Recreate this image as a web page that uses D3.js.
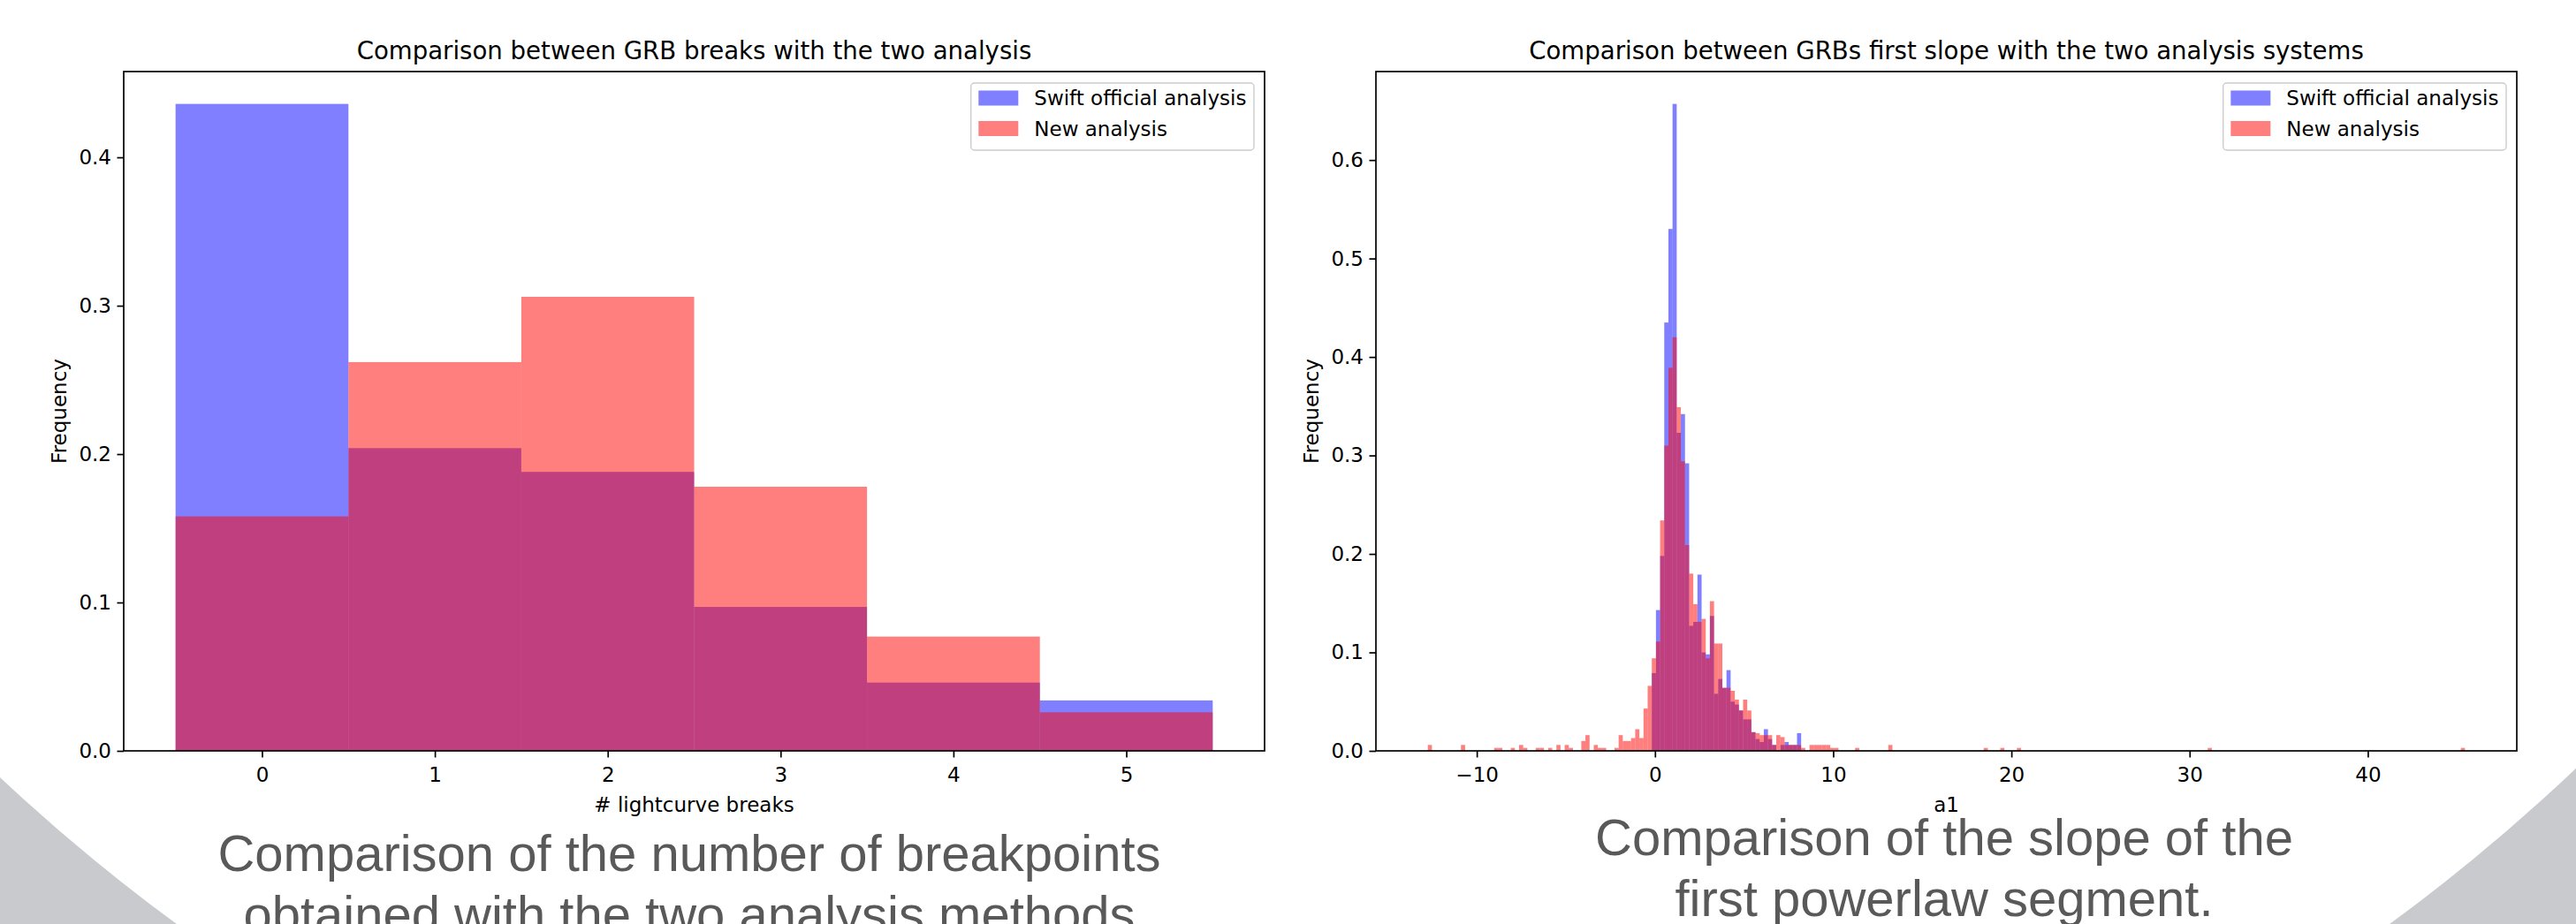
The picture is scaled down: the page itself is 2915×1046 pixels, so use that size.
<!DOCTYPE html>
<html>
<head>
<meta charset="utf-8">
<script src="https://cdn.jsdelivr.net/npm/d3@7"></script>
<style>
  body { margin: 0; background: #fff; }
  .mpl { font-family: "DejaVu Sans", sans-serif; }
  .caption { font-family: "Liberation Sans", Arial, sans-serif; }
</style>
</head>
<body>
<svg id="fig" width="2915" height="1046"></svg>
<script>
// ---- data: number of lightcurve breaks (density) ----
const breakCounts = [0, 1, 2, 3, 4, 5];
const breaksSwift = [0.436, 0.204, 0.188, 0.097, 0.046, 0.034];
const breaksNew = [0.158, 0.262, 0.306, 0.178, 0.077, 0.026];

// ---- data: first slope a1 (density), 250 bins ----
const slopeLo = -12.75;
const slopeBinWidth = 0.2328;
const slopeBinCount = 250;
const bodyFirstBin = 54;
const swiftBody = [0.079, 0.143, 0.198, 0.435, 0.530, 0.657, 0.323, 0.342, 0.292, 0.127,
  0.131, 0.179, 0.100, 0.098, 0.137, 0.058, 0.073, 0.064, 0.082, 0.050,
  0.047, 0.041, 0.032, 0.032, 0.019, 0.012, 0.009, 0.022, 0.012, 0.006,
  0.000, 0.006, 0.009, 0.006, 0.006, 0.018];
const newBody = [0.094, 0.111, 0.234, 0.310, 0.389, 0.420, 0.349, 0.294, 0.209, 0.180,
  0.149, 0.131, 0.134, 0.094, 0.152, 0.109, 0.109, 0.064, 0.064, 0.061,
  0.052, 0.041, 0.052, 0.041, 0.019, 0.018, 0.016, 0.016, 0.016, 0.006,
  0.016, 0.014, 0.006, 0.006, 0.006, 0.006];
const newOutlierBins = [0, 8, 16, 17, 20, 22, 23, 26, 27, 29, 31, 33, 34, 37, 38, 40, 41, 42, 45, 46,
  47, 48, 49, 50, 51, 52, 53, 90, 92, 93, 94, 95, 96, 97, 98, 103, 111, 134, 138, 142, 188, 249];
const newOutlierFreq = [0.006, 0.006, 0.003, 0.003, 0.003, 0.006, 0.003, 0.003, 0.003, 0.003,
  0.006, 0.006, 0.003, 0.010, 0.016, 0.006, 0.003, 0.003, 0.003, 0.016,
  0.010, 0.010, 0.013, 0.022, 0.013, 0.043, 0.066, 0.003, 0.006, 0.006,
  0.006, 0.006, 0.006, 0.003, 0.003, 0.003, 0.006, 0.003, 0.003, 0.003, 0.003, 0.003];

const seriesNames = ["Swift official analysis", "New analysis"];
const seriesColors = ["blue", "red"];

const svg = d3.select("#fig");

// slide background: grey corners outside a large white disc
svg.append("rect").attr("width", 2915).attr("height", 1046).attr("fill", "#c9cacd");
svg.append("circle").attr("cx", 1452).attr("cy", -666).attr("r", 2121).attr("fill", "#fff");

const fs = 23;

function panel(o) {
    const x = d3.scaleLinear().domain(o.xDomain).range([o.left, o.left + o.width]);
    const y = d3.scaleLinear().domain([0, o.yMax]).range([o.top + o.height, o.top]);
    const g = svg.append("g").attr("class", "mpl");

    [o.swift, o.fresh].forEach((bars, i) => {
        g.append("g").selectAll("rect")
            .data(bars.filter(b => b.h > 0))
            .join("rect")
            .attr("x", d => x(d.x0))
            .attr("width", d => x(d.x1) - x(d.x0))
            .attr("y", d => y(d.h))
            .attr("height", d => y(0) - y(d.h))
            .attr("fill", seriesColors[i])
            .attr("fill-opacity", 0.5);
    });

    const xAxis = g.append("g")
        .attr("transform", `translate(0,${o.top + o.height})`)
        .call(d3.axisBottom(x).tickValues(o.xTicks).tickFormat(o.xFmt).tickSize(7.5).tickPadding(11));
    const yAxis = g.append("g")
        .attr("transform", `translate(${o.left},0)`)
        .call(d3.axisLeft(y).tickValues(o.yTicks).tickFormat(d3.format(".1f")).tickSize(7.5).tickPadding(6.5));
    [xAxis, yAxis].forEach(a => {
        a.select(".domain").remove();
        a.selectAll("line").attr("stroke", "#000").attr("stroke-width", 1.7);
        a.selectAll("text").attr("font-size", fs).attr("fill", "#000")
            .style("font-family", "DejaVu Sans");
    });

    // frame
    g.append("rect")
        .attr("x", o.left).attr("y", o.top)
        .attr("width", o.width).attr("height", o.height)
        .attr("fill", "none").attr("stroke", "#000").attr("stroke-width", 1.7);

    g.append("text")
        .attr("x", o.left + o.width / 2).attr("y", o.top - 14)
        .attr("text-anchor", "middle").attr("font-size", 27.6)
        .text(o.title);
    g.append("text")
        .attr("x", o.left + o.width / 2).attr("y", o.top + o.height + 69)
        .attr("text-anchor", "middle").attr("font-size", fs)
        .text(o.xLabel);
    g.append("text")
        .attr("transform", `translate(${o.left - 73},${o.top + o.height / 2}) rotate(-90)`)
        .attr("text-anchor", "middle").attr("dominant-baseline", "central")
        .attr("font-size", fs)
        .text("Frequency");

    // legend
    const lg = g.append("g");
    const box = lg.append("rect").attr("rx", 4).attr("ry", 4)
        .attr("fill", "#fff").attr("fill-opacity", 0.8)
        .attr("stroke", "#cccccc").attr("stroke-width", 1.4);
    const right = o.left + o.width - 12, top = o.top + 13;
    let maxW = 0;
    const labels = seriesNames.map((name, i) => {
        const t = lg.append("text").attr("font-size", fs)
            .attr("dominant-baseline", "central")
            .attr("y", top + 17 + i * 34.5).text(name);
        maxW = Math.max(maxW, t.node().getComputedTextLength());
        return t;
    });
    const boxW = 8.6 + 45 + 18 + maxW + 8.6;
    const bx = right - boxW;
    box.attr("x", bx).attr("y", top).attr("width", boxW).attr("height", 76);
    seriesNames.forEach((name, i) => {
        lg.append("rect")
            .attr("x", bx + 8.6).attr("y", top + 17 + i * 34.5 - 8.5)
            .attr("width", 45).attr("height", 17)
            .attr("fill", seriesColors[i]).attr("fill-opacity", 0.5);
        labels[i].attr("x", bx + 8.6 + 45 + 18);
    });
}

// ---- left panel ----
const breakBars = vals => breakCounts.map((c, i) => ({ x0: c - 0.5, x1: c + 0.5, h: vals[i] }));
panel({
    left: 140, top: 81, width: 1291, height: 769,
    xDomain: [-0.8, 5.8],
    yMax: d3.max(breaksSwift.concat(breaksNew)) * 1.05,
    xTicks: breakCounts, yTicks: [0, 0.1, 0.2, 0.3, 0.4],
    xFmt: d3.format("d"),
    title: "Comparison between GRB breaks with the two analysis",
    xLabel: "# lightcurve breaks",
    swift: breakBars(breaksSwift),
    fresh: breakBars(breaksNew)
});

// ---- right panel ----
const edge = k => slopeLo + k * slopeBinWidth;
const swiftSlope = swiftBody.map((h, i) => ({ x0: edge(bodyFirstBin + i), x1: edge(bodyFirstBin + i + 1), h }));
const newSlope = newBody.map((h, i) => ({ x0: edge(bodyFirstBin + i), x1: edge(bodyFirstBin + i + 1), h }))
    .concat(newOutlierBins.map((k, i) => ({ x0: edge(k), x1: edge(k + 1), h: newOutlierFreq[i] })));
const slopeHi = edge(slopeBinCount);
const pad = 0.05 * (slopeHi - slopeLo);
panel({
    left: 1557, top: 81, width: 1291, height: 769,
    xDomain: [slopeLo - pad, slopeHi + pad],
    yMax: d3.max(swiftBody.concat(newBody)) * 1.05,
    xTicks: [-10, 0, 10, 20, 30, 40], yTicks: [0, 0.1, 0.2, 0.3, 0.4, 0.5, 0.6],
    xFmt: d3.format("d"),
    title: "Comparison between GRBs first slope with the two analysis systems",
    xLabel: "a1",
    swift: swiftSlope,
    fresh: newSlope
});

// ---- slide captions ----
const captions = [
    { x: 780, y: 986, lines: ["Comparison of the number of breakpoints", "obtained with the two analysis methods"] },
    { x: 2200, y: 968, lines: ["Comparison of the slope of the", "first powerlaw segment."] }
];
captions.forEach(c => {
    c.lines.forEach((line, i) => {
        svg.append("text")
            .attr("class", "caption")
            .attr("x", c.x).attr("y", c.y + i * 69)
            .attr("text-anchor", "middle")
            .attr("font-size", 58).attr("fill", "#595959")
            .text(line);
    });
});
</script>
</body>
</html>
